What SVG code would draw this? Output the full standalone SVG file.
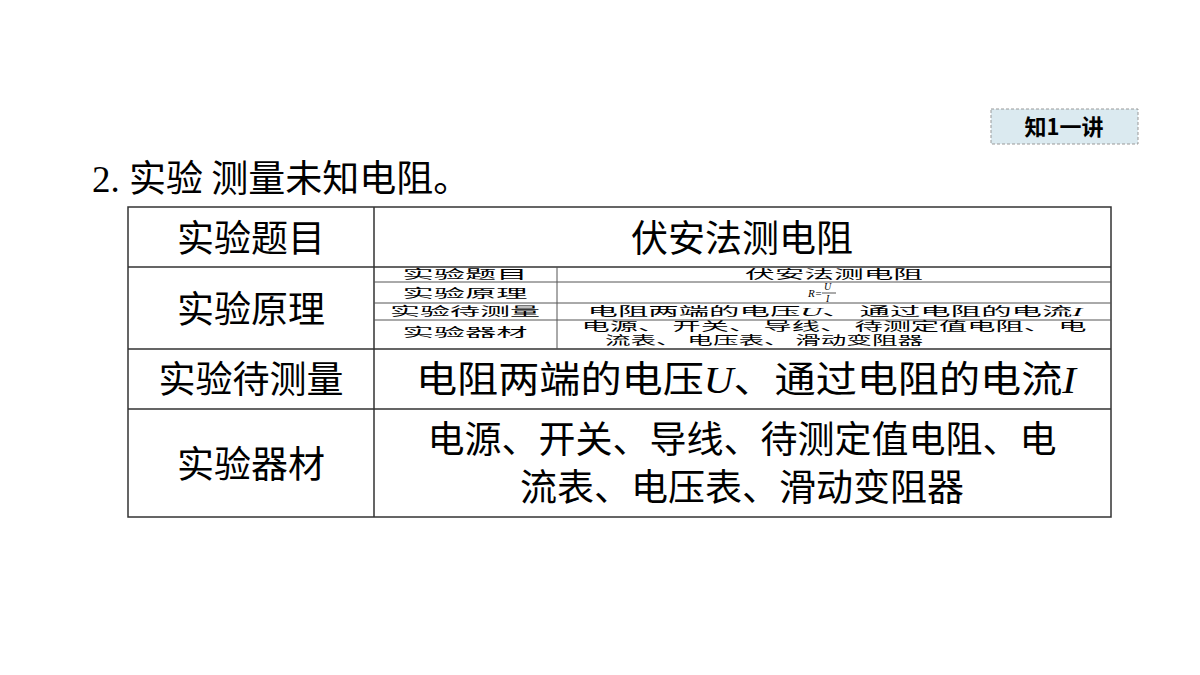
<svg xmlns="http://www.w3.org/2000/svg" width="1200" height="675" viewBox="0 0 1200 675">
<style>
.t{font-family:"Noto Sans CJK SC","Noto Sans",sans-serif;fill:#000}
.b{font-size:37px;text-anchor:middle}
.s{font-size:12px;text-anchor:middle}
.ln{stroke:#333;stroke-width:1.5;fill:none}
.sl{stroke:#555;stroke-width:1;fill:none}
.i{font-family:"Liberation Serif",serif;font-style:italic}
</style>
<rect width="1200" height="675" fill="#fff"/>
<g id="badge">
<rect x="991" y="109" width="147" height="35" fill="#dbeaf0" stroke="#999" stroke-dasharray="3,2"/>
<text class="t" x="1064" y="135" font-size="22" font-weight="bold" text-anchor="middle">知1一讲</text>
</g>
<g id="title">
<text x="92" y="192" font-size="37" class="t"><tspan font-family="Liberation Serif,serif">2. </tspan>实验 测量未知电阻。</text>
</g>
<g id="table">
<rect x="128" y="207" width="983" height="310" class="ln"/>
<path class="ln" d="M374 207V517M128 267H1111M128 349H1111M128 409H1111"/>
<text class="t b" x="251" y="252">实验题目</text>
<text class="t b" x="742" y="252">伏安法测电阻</text>
<text class="t b" x="251" y="323">实验原理</text>
<text class="t b" x="251" y="393">实验待测量</text>
<text class="t b" x="746" y="393" textLength="660" lengthAdjust="spacingAndGlyphs">电阻两端的电压<tspan class="i">U</tspan>、通过电阻的电流<tspan class="i">I</tspan></text>
<text class="t b" x="251" y="478">实验器材</text>
<text class="t b" x="742" y="453">电源、开关、导线、待测定值电阻、电</text>
<text class="t b" x="742" y="501">流表、电压表、滑动变阻器</text>
</g>
<g id="nested">
<path class="sl" d="M557 267V349M374 282H1111M374 303H1111M374 320H1111"/>
<text class="t s" x="465" y="279" textLength="125" lengthAdjust="spacingAndGlyphs">实验题目</text>
<text class="t s" x="834" y="279" textLength="178" lengthAdjust="spacingAndGlyphs">伏安法测电阻</text>
<text class="t s" x="465" y="298" textLength="125" lengthAdjust="spacingAndGlyphs">实验原理</text>
<text class="i" x="808" y="297" font-size="11">R=</text>
<text class="i" x="824" y="290" font-size="10">U</text>
<path class="sl" d="M822 293H836"/>
<text class="i" x="826" y="302" font-size="10">I</text>
<text class="t s" x="465" y="316" textLength="150" lengthAdjust="spacingAndGlyphs">实验待测量</text>
<text class="t s" x="835" y="316" textLength="495" lengthAdjust="spacingAndGlyphs">电阻两端的电压<tspan class="i">U</tspan>、 通过电阻的电流<tspan class="i">I</tspan></text>
<text class="t s" x="465" y="337" textLength="125" lengthAdjust="spacingAndGlyphs">实验器材</text>
<text class="t s" x="834" y="331" textLength="505" lengthAdjust="spacingAndGlyphs">电源、 开关、 导线、 待测定值电阻、 电</text>
<text class="t s" x="764" y="345" textLength="318" lengthAdjust="spacingAndGlyphs">流表、 电压表、 滑动变阻器</text>
</g>
</svg>
